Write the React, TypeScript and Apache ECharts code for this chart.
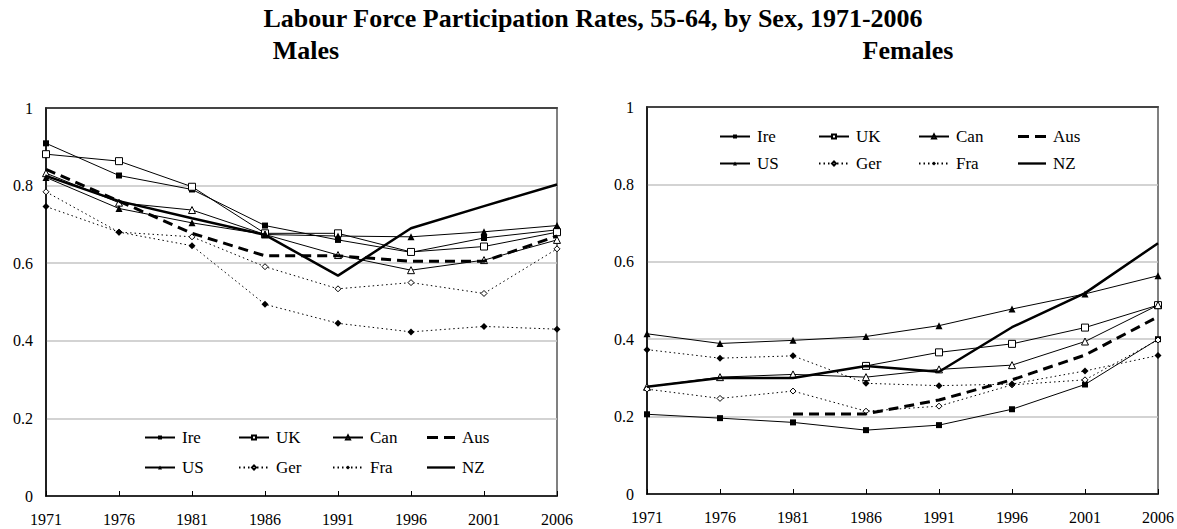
import { useEffect, useRef } from 'react';
import * as echarts from 'echarts';

const years = ['1971', '1976', '1981', '1986', '1991', '1996', '2001', '2006'];
const countries = ['Ire', 'UK', 'Can', 'Aus', 'US', 'Ger', 'Fra', 'NZ'];

// Males
const maleIre = [0.909, 0.826, 0.790, 0.697, 0.660, 0.628, 0.665, 0.686];
const maleUK = [0.881, 0.863, 0.797, 0.677, 0.677, 0.629, 0.643, 0.680];
const maleCan = [0.832, 0.756, 0.737, 0.674, 0.621, 0.582, 0.608, 0.660];
const maleAus = [0.842, 0.760, 0.677, 0.619, 0.619, 0.605, 0.605, 0.670];
const maleUS = [0.821, 0.741, 0.704, 0.674, 0.670, 0.668, 0.681, 0.697];
const maleGer = [0.784, 0.680, 0.668, 0.591, 0.534, 0.550, 0.522, 0.637];
const maleFra = [0.746, 0.680, 0.645, 0.494, 0.445, 0.423, 0.437, 0.430];
const maleNZ = [0.825, 0.760, 0.716, 0.673, 0.568, 0.690, 0.747, 0.803];

// Females
const femaleIre = [0.206, 0.196, 0.185, 0.165, 0.178, 0.219, 0.283, 0.400];
const femaleUK = [null, null, null, 0.331, 0.366, 0.388, 0.430, 0.488];
const femaleCan = [0.277, 0.302, 0.309, 0.302, 0.322, 0.333, 0.394, 0.488];
const femaleAus = [null, null, 0.207, 0.207, 0.243, 0.295, 0.359, 0.458];
const femaleUS = [0.414, 0.389, 0.397, 0.407, 0.435, 0.478, 0.517, 0.564];
const femaleGer = [0.271, 0.247, 0.266, 0.214, 0.227, 0.282, 0.295, 0.398];
const femaleFra = [0.373, 0.351, 0.357, 0.286, 0.280, 0.284, 0.318, 0.358];
const femaleNZ = [0.277, 0.300, 0.300, 0.331, 0.316, 0.431, 0.519, 0.648];

const yTicks = [0, 0.2, 0.4, 0.6, 0.8, 1];

const maleData: Record<string, (number | null)[]> = {
  Ire: maleIre, UK: maleUK, Can: maleCan, Aus: maleAus,
  US: maleUS, Ger: maleGer, Fra: maleFra, NZ: maleNZ,
};
const femaleData: Record<string, (number | null)[]> = {
  Ire: femaleIre, UK: femaleUK, Can: femaleCan, Aus: femaleAus,
  US: femaleUS, Ger: femaleGer, Fra: femaleFra, NZ: femaleNZ,
};

const FONT = 'Liberation Serif';

const styles: Record<string, any> = {
  Ire: { symbol: 'rect', size: 6, filled: true, type: 'solid', width: 1 },
  UK: { symbol: 'rect', size: 7, filled: false, type: 'solid', width: 1 },
  Can: { symbol: 'triangle', size: 7, filled: false, type: 'solid', width: 1 },
  Aus: { symbol: 'none', size: 0, filled: true, type: [10, 6], width: 3, icon: 'path://M0,0H11V3H0ZM17,0H28V3H17Z' },
  US: { symbol: 'triangle', size: 7, filled: true, type: 'solid', width: 1 },
  Ger: { symbol: 'diamond', size: 6, filled: false, type: [1.5, 3], width: 1 },
  Fra: { symbol: 'diamond', size: 7, filled: true, type: [1.5, 3], width: 1 },
  NZ: { symbol: 'none', size: 0, filled: true, type: 'solid', width: 2.5, icon: 'path://M0,0H30V2.5H0Z' },
};

function makeSeries(name: string, data: (number | null)[], xi: number, yi: number) {
  const s = styles[name];
  return {
    type: 'line',
    name,
    data,
    xAxisIndex: xi,
    yAxisIndex: yi,
    symbol: s.symbol,
    symbolSize: s.size,
    showSymbol: s.symbol !== 'none',
    connectNulls: false,
    lineStyle: { color: '#000', width: s.width, type: s.type },
    itemStyle: s.filled
      ? { color: '#000', borderColor: '#000', borderWidth: 0 }
      : { color: '#fff', borderColor: '#000', borderWidth: 1 },
    emphasis: { disabled: true },
    z: name === 'NZ' || name === 'Aus' ? 3 : 2,
  };
}

function xAxes(gridIndex: number) {
  return [
    {
      type: 'category',
      gridIndex,
      data: years,
      boundaryGap: false,
      position: 'bottom',
      axisLine: { lineStyle: { color: '#000', width: 1.5 } },
      axisTick: { show: true, inside: true, length: 5, lineStyle: { color: '#000', width: 1 } },
      axisLabel: { color: '#000', fontSize: 16, fontFamily: FONT, margin: 15 },
      splitLine: { show: false },
    },
    {
      type: 'category',
      gridIndex,
      data: years,
      boundaryGap: false,
      position: 'top',
      axisLine: { lineStyle: { color: '#222', width: 1.5 } },
      axisTick: { show: false },
      axisLabel: { show: false },
      splitLine: { show: false },
    },
  ];
}

function yAxis(gridIndex: number) {
  return {
    type: 'value',
    gridIndex,
    min: yTicks[0],
    max: yTicks[yTicks.length - 1],
    interval: 0.2,
    axisLine: { show: true, lineStyle: { color: '#000', width: 1.5 } },
    axisTick: { show: false },
    axisLabel: { color: '#000', fontSize: 16, fontFamily: FONT, margin: 13 },
    splitLine: { show: true, lineStyle: { color: '#c4c4c4', width: 1.5 } },
  };
}

function legends(lefts: number[], tops: number[]) {
  const out: any[] = [];
  countries.forEach((c, i) => {
    const s = styles[c];
    const top = tops[Math.floor(i / 4)];
    const lg: any = {
      data: s.icon ? [{ name: c, icon: s.icon }] : [c],
      left: lefts[i % 4],
      top,
      padding: 0,
      itemWidth: s.icon ? 28 : 30,
      itemHeight: s.icon ? 3 : 5,
      itemGap: 0,
      selectedMode: false,
      textStyle: { color: '#000', fontSize: 17, fontFamily: FONT, padding: [0, 0, 0, 2] },
    };
    if (s.icon) lg.itemStyle = { color: '#000', borderWidth: 0 };
    out.push(lg);
  });
  return out;
}

export default function App() {
  const ref = useRef<HTMLDivElement>(null);
  useEffect(() => {
    if (!ref.current) return;
    const chart = echarts.init(ref.current, null, { renderer: 'svg' });
    const series: any[] = [];
    countries.forEach((c) => series.push(makeSeries(c, maleData[c], 0, 0)));
    countries.forEach((c) => series.push(makeSeries(c, femaleData[c], 2, 1)));
    chart.setOption({
      animation: false,
      backgroundColor: '#fff',
      textStyle: { fontFamily: FONT },
      title: [
        {
          text: 'Labour Force Participation Rates, 55-64, by Sex, 1971-2006',
          left: 588,
          top: 0,
          textAlign: 'center',
          textStyle: { fontSize: 26, fontWeight: 'bold', color: '#000', fontFamily: FONT },
        },
        {
          text: 'Males',
          left: 301,
          top: 32,
          textAlign: 'center',
          textStyle: { fontSize: 26, fontWeight: 'bold', color: '#000', fontFamily: FONT },
        },
        {
          text: 'Females',
          left: 903,
          top: 32,
          textAlign: 'center',
          textStyle: { fontSize: 26, fontWeight: 'bold', color: '#000', fontFamily: FONT },
        },
      ],
      grid: [
        { left: 46, right: 620, top: 108, bottom: 33, show: true, borderColor: '#808080', borderWidth: 2, backgroundColor: 'transparent' },
        { left: 647, right: 19, top: 107, bottom: 35, show: true, borderColor: '#808080', borderWidth: 2, backgroundColor: 'transparent' },
      ],
      xAxis: [...xAxes(0), ...xAxes(1)],
      yAxis: [yAxis(0), yAxis(1)],
      legend: [
        ...legends([144, 238, 332, 427], [429, 459]),
        ...legends([719, 818, 918, 1018], [128, 155]),
      ],
      series,
    });
    return () => chart.dispose();
  }, []);
  return (
    <div
      ref={ref}
      style={{ position: 'absolute', left: 0, top: 0, width: 1177, height: 529, background: '#fff' }}
    />
  );
}
